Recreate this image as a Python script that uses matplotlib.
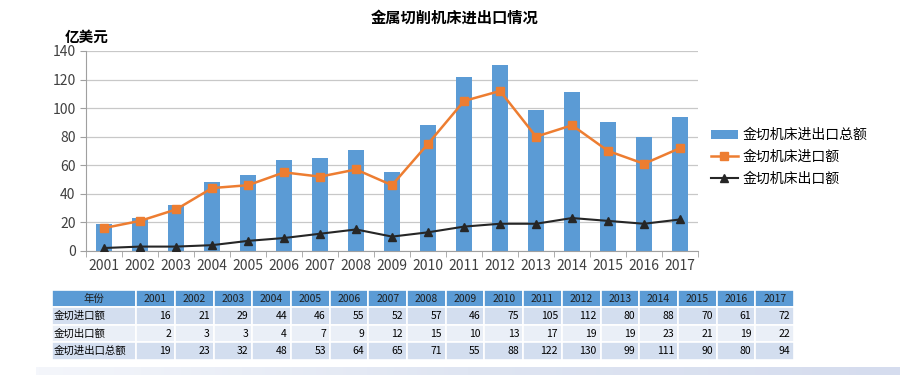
import numpy as np
import matplotlib
matplotlib.use("Agg")
from matplotlib import pyplot as plt

plt.rcParams['font.family'] = ['Noto Sans CJK SC', 'DejaVu Sans']

# data
years = ['2001', '2002', '2003', '2004', '2005', '2006', '2007', '2008', '2009',
         '2010', '2011', '2012', '2013', '2014', '2015', '2016', '2017']
imports = [16, 21, 29, 44, 46, 55, 52, 57, 46, 75, 105, 112, 80, 88, 70, 61, 72]
exports = [2, 3, 3, 4, 7, 9, 12, 15, 10, 13, 17, 19, 19, 23, 21, 19, 22]
totals = [19, 23, 32, 48, 53, 64, 65, 71, 55, 88, 122, 130, 99, 111, 90, 80, 94]

row_labels = ['金切进口额', '金切出口额', '金切进出口总额']
legend_labels = ['金切机床进出口总额', '金切机床进口额', '金切机床出口额']

blue = '#5b9bd5'
orange = '#ed7d31'

fig = plt.figure(figsize=(9, 3.75), dpi=100)

# main chart
ax = fig.add_axes([0.0956, 0.331, 0.68, 0.533])
x = np.arange(len(years))
b = ax.bar(x, totals, width=0.42, color=blue, label=legend_labels[0], zorder=2)
l1, = ax.plot(x, imports, color=orange, marker='s', markersize=6, linewidth=1.8,
              label=legend_labels[1], zorder=3)
l2, = ax.plot(x, exports, color='#262626', marker='^', markersize=6, linewidth=1.5,
              label=legend_labels[2], zorder=3)

ax.set_xlim(-0.5, len(years) - 0.5)
ax.set_ylim(0, 140)
ax.set_yticks(range(0, 141, 20))
ax.set_xticks(x)
ax.set_xticklabels(years)
ax.tick_params(axis='both', labelsize=10, colors='#404040')
ax.tick_params(axis='x', length=0, pad=6)
ax.set_xticks(np.arange(-0.5, len(years)), minor=True)
ax.tick_params(axis='x', which='minor', length=4, color='#a0a0a0')
ax.tick_params(axis='y', length=4, color='#a0a0a0')
ax.grid(axis='y', color='#c8c8c8', linewidth=0.9, zorder=0)
for s in ['top', 'right']:
    ax.spines[s].set_visible(False)
for s in ['left', 'bottom']:
    ax.spines[s].set_color('#a0a0a0')

ax.legend([b, l1, l2], legend_labels, loc='center left',
          bbox_to_anchor=(1.0, 0.47), frameon=False,
          fontsize=10, handlelength=2.0, labelspacing=0.55, handletextpad=0.3)

fig.text(0.505, 0.952, '金属切削机床进出口情况', ha='center', va='center',
         fontsize=11, fontweight='bold')
fig.text(0.072, 0.903, '亿美元', ha='left', va='center', fontsize=10.5,
         fontweight='bold')

# table under the chart
tax = fig.add_axes([0.0578, 0.04, 0.8244, 0.187])
tax.axis('off')
cell_text = [[str(v) for v in row] for row in (imports, exports, totals)]
tbl = tax.table(cellText=[['年份'] + years] +
                [[lab] + r for lab, r in zip(row_labels, cell_text)],
                bbox=[0, 0, 1, 1], cellLoc='right')
tbl.auto_set_font_size(False)
tbl.set_fontsize(7.5)
col_w = [0.1135] + [(1 - 0.1135) / len(years)] * len(years)
row_fill = ['#d3deef', '#eaeff7', '#d3deef']
for (r, c), cell in tbl.get_celld().items():
    cell.set_width(col_w[c])
    cell.set_edgecolor('white')
    cell.set_linewidth(1.2)
    if r == 0:
        cell.set_facecolor(blue)
        cell.get_text().set_ha('center')
        cell.get_text().set_color('#1f1f1f')
    else:
        cell.set_facecolor(row_fill[r - 1])
        if c == 0:
            cell.get_text().set_ha('left')
            cell.PAD = 0.02

# faint band at the very bottom
gax = fig.add_axes([0.04, 0.0, 0.96, 0.022])
grad = np.linspace(0, 1, 256).reshape(1, -1)
gax.imshow(grad, aspect='auto', cmap=matplotlib.colors.LinearSegmentedColormap.from_list(
    'band', ['#f4f6fb', '#dfe5f2', '#d5dcee']))
gax.axis('off')

fig.savefig('out.png', dpi=100)
